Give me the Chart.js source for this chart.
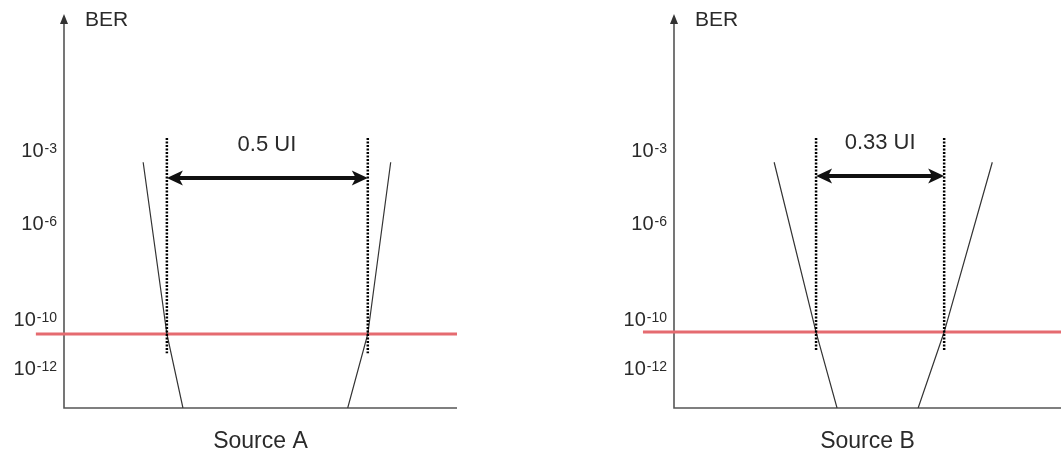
<!DOCTYPE html>
<html>
<head>
<meta charset="utf-8">
<script src="https://cdn.jsdelivr.net/npm/chart.js@4.4.1/dist/chart.umd.min.js"></script>
<style>
  html, body { margin: 0; padding: 0; background: #fff; }
  #wrap { position: relative; width: 1061px; height: 452px; }
  canvas { position: absolute; top: 0; }
</style>
</head>
<body>
<div id="wrap">
  <canvas id="chartA" width="600" height="452" style="left:0"></canvas>
  <canvas id="chartB" width="461" height="452" style="left:600px"></canvas>
</div>
<script>
// y values are BER exponents (log10), x values in UI
const tickExponents = [-3, -6, -10, -12];
const tickLabels = ['-3', '-6', '-10', '-12'];

// Source A
const aLeftCurve  = [{ x: 0.197, y: -3.5 }, { x: 0.256, y: -10.6 }, { x: 0.296, y: -13.66 }];
const aRightCurve = [{ x: 0.813, y: -3.5 }, { x: 0.756, y: -10.6 }, { x: 0.706, y: -13.66 }];
const aMarkers = [0.256, 0.756];
const aMarkerRange = [-2.5, -11.4];
const aLimit = -10.6;
const aLimitRange = [-0.07, 0.978];
const aArrowY = -4.15;
const aLabel = '0.5 UI';
const aLabelPos = { x: 0.505, y: -2.75 };

// Source B
const bLeftCurve  = [{ x: 0.258, y: -3.5 }, { x: 0.366, y: -10.52 }, { x: 0.420, y: -13.66 }];
const bRightCurve = [{ x: 0.820, y: -3.5 }, { x: 0.696, y: -10.52 }, { x: 0.629, y: -13.66 }];
const bMarkers = [0.366, 0.696];
const bMarkerRange = [-2.5, -11.3];
const bLimit = -10.52;
const bLimitRange = [-0.08, 0.997];
const bArrowY = -4.07;
const bLabel = '0.33 UI';
const bLabelPos = { x: 0.531, y: -2.65 };

const FONT = '"Liberation Sans", Arial, sans-serif';

const berPlugin = {
  id: 'berAxes',
  beforeDatasetsDraw(chart) {
    const { ctx, chartArea: a } = chart;
    ctx.save();
    ctx.strokeStyle = '#555';
    ctx.lineWidth = 1.6;
    ctx.beginPath();
    ctx.moveTo(a.left, a.top + 6);
    ctx.lineTo(a.left, a.bottom);
    ctx.lineTo(a.right, a.bottom);
    ctx.stroke();
    ctx.fillStyle = '#333';
    ctx.beginPath();
    ctx.moveTo(a.left, a.top);
    ctx.lineTo(a.left - 4, a.top + 10);
    ctx.lineTo(a.left + 4, a.top + 10);
    ctx.closePath();
    ctx.fill();
    ctx.restore();
  },
  afterDatasetsDraw(chart, args, opts) {
    const { ctx, chartArea: a, scales: { x, y } } = chart;
    ctx.save();
    ctx.fillStyle = '#2a2a2a';

    // y tick labels 10^n
    tickExponents.forEach((e, i) => {
      const py = y.getPixelForValue(e);
      ctx.font = '14px ' + FONT;
      const supW = ctx.measureText(tickLabels[i]).width;
      const right = a.left - 7;
      ctx.textAlign = 'right';
      ctx.textBaseline = 'alphabetic';
      ctx.fillText(tickLabels[i], right, py + 3);
      ctx.font = '20px ' + FONT;
      ctx.fillText('10', right - supW - 1, py + 7);
    });

    ctx.font = '21px ' + FONT;
    ctx.textAlign = 'left';
    ctx.fillText('BER', a.left + 21, 26);

    ctx.textAlign = 'center';
    ctx.font = '23px ' + FONT;
    ctx.fillText(opts.source, (a.left + a.right) / 2, 448);
    ctx.font = '22px ' + FONT;
    ctx.fillText(opts.label, x.getPixelForValue(opts.labelPos.x), y.getPixelForValue(opts.labelPos.y) + 7);

    // double arrow between the markers
    const x1 = x.getPixelForValue(opts.markers[0]);
    const x2 = x.getPixelForValue(opts.markers[1]);
    const py = y.getPixelForValue(opts.arrowY);
    ctx.strokeStyle = '#111';
    ctx.fillStyle = '#111';
    ctx.lineWidth = 4;
    ctx.beginPath();
    ctx.moveTo(x1 + 10, py);
    ctx.lineTo(x2 - 10, py);
    ctx.stroke();
    [[x1, 1], [x2, -1]].forEach(([tx, d]) => {
      ctx.beginPath();
      ctx.moveTo(tx, py);
      ctx.lineTo(tx + d * 16, py - 7.5);
      ctx.lineTo(tx + d * 12, py);
      ctx.lineTo(tx + d * 16, py + 7.5);
      ctx.closePath();
      ctx.fill();
    });
    ctx.restore();
  }
};

function makeChart(id, cfg) {
  const markerSets = cfg.markers.map(m => ({
    data: [{ x: m, y: cfg.markerRange[0] }, { x: m, y: cfg.markerRange[1] }],
    borderColor: '#000',
    borderWidth: 2.5,
    borderDash: [2, 1.5],
    pointRadius: 0,
    order: 1
  }));
  new Chart(document.getElementById(id), {
    type: 'line',
    data: {
      datasets: [
        {
          data: [{ x: cfg.limitRange[0], y: cfg.limit }, { x: cfg.limitRange[1], y: cfg.limit }],
          borderColor: '#e56b70',
          borderWidth: 3,
          pointRadius: 0,
          clip: false,
          order: 3
        },
        { data: cfg.left, borderColor: '#333', borderWidth: 1.2, pointRadius: 0, order: 2 },
        { data: cfg.right, borderColor: '#333', borderWidth: 1.2, pointRadius: 0, order: 2 },
        ...markerSets
      ]
    },
    options: {
      responsive: false,
      animation: false,
      events: [],
      layout: { padding: cfg.padding },
      plugins: {
        legend: { display: false },
        tooltip: { enabled: false },
        berAxes: {
          source: cfg.source,
          label: cfg.label,
          labelPos: cfg.labelPos,
          markers: cfg.markers,
          arrowY: cfg.arrowY
        }
      },
      scales: {
        x: { type: 'linear', display: false, min: 0, max: cfg.xMax },
        y: { type: 'linear', display: false, min: -13.66, max: 2.63 }
      }
    },
    plugins: [berPlugin]
  });
}

makeChart('chartA', {
  left: aLeftCurve, right: aRightCurve, markers: aMarkers, markerRange: aMarkerRange,
  limit: aLimit, limitRange: aLimitRange, arrowY: aArrowY, label: aLabel, labelPos: aLabelPos,
  source: 'Source A', xMax: 0.978,
  padding: { left: 64, right: 143, top: 14, bottom: 44 }
});

makeChart('chartB', {
  left: bLeftCurve, right: bRightCurve, markers: bMarkers, markerRange: bMarkerRange,
  limit: bLimit, limitRange: bLimitRange, arrowY: bArrowY, label: bLabel, labelPos: bLabelPos,
  source: 'Source B', xMax: 0.997,
  padding: { left: 74, right: 0, top: 14, bottom: 44 }
});
</script>
</body>
</html>
